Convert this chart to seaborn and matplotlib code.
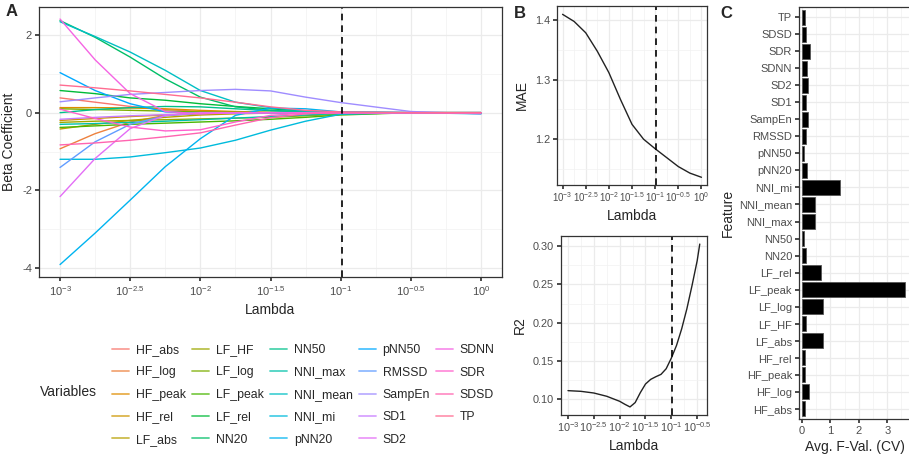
import numpy as np
import pandas as pd
import seaborn as sns
import matplotlib.pyplot as plt
from matplotlib.lines import Line2D

# ---- data ----
variables = ["HF_abs", "HF_log", "HF_peak", "HF_rel", "LF_abs", "LF_HF", "LF_log", "LF_peak",
             "LF_rel", "NN20", "NN50", "NNI_max", "NNI_mean", "NNI_mi", "pNN20", "pNN50",
             "RMSSD", "SampEn", "SD1", "SD2", "SDNN", "SDR", "SDSD", "TP"]

# panel A: log10(lambda) grid and coefficient paths
exp_a = [-3, -2.75, -2.5, -2.25, -2, -1.75, -1.5, -1.25, -1, -0.5, 0]
hf_abs = [0.38, 0.27, 0.16, 0.08, 0.03, 0.01, 0.0, 0.0, 0.0, 0.0, 0.0]
hf_log = [-0.93, -0.54, -0.24, -0.07, -0.01, 0.0, 0.0, 0.0, 0.0, 0.0, 0.0]
hf_peak = [0.13, 0.13, 0.12, 0.10, 0.06, 0.03, 0.01, 0.0, 0.0, 0.0, 0.0]
hf_rel = [-0.20, -0.15, -0.10, -0.06, -0.03, -0.01, 0.0, 0.0, 0.0, 0.0, 0.0]
lf_abs = [-0.42, -0.30, -0.20, -0.12, -0.06, -0.03, -0.01, 0.0, 0.0, 0.0, 0.0]
lf_hf = [-0.25, -0.22, -0.20, -0.18, -0.16, -0.14, -0.12, -0.08, -0.04, 0.0, 0.0]
lf_log = [0.10, 0.08, 0.06, 0.04, 0.02, 0.01, 0.0, 0.0, 0.0, 0.0, 0.0]
lf_peak = [-0.38, -0.34, -0.30, -0.27, -0.24, -0.21, -0.17, -0.12, -0.06, 0.0, -0.02]
lf_rel = [0.57, 0.49, 0.38, 0.32, 0.23, 0.16, 0.10, 0.04, 0.01, 0.0, 0.0]
nn20 = [2.37, 1.94, 1.43, 0.87, 0.40, 0.15, 0.06, 0.02, 0.0, 0.0, 0.0]
nn50 = [0.0, 0.08, 0.13, 0.16, 0.15, 0.10, 0.05, 0.02, 0.0, 0.0, 0.0]
nni_max = [-0.30, -0.28, -0.25, -0.22, -0.18, -0.14, -0.10, -0.06, -0.02, 0.0, 0.0]
nni_mean = [2.34, 1.96, 1.56, 1.09, 0.57, 0.27, 0.13, 0.04, 0.01, 0.0, 0.0]
nni_mi = [-1.20, -1.20, -1.14, -1.03, -0.91, -0.71, -0.45, -0.22, -0.04, 0.0, -0.03]
pnn20 = [-3.91, -3.10, -2.25, -1.39, -0.67, -0.07, 0.12, 0.10, 0.02, 0.0, 0.0]
pnn50 = [1.03, 0.57, 0.23, 0.02, -0.02, 0.0, 0.0, 0.0, 0.0, 0.0, 0.0]
rmssd = [-1.41, -0.75, -0.30, -0.08, -0.01, 0.0, 0.0, 0.0, 0.0, 0.0, 0.0]
sampen = [0.28, 0.38, 0.47, 0.52, 0.57, 0.60, 0.56, 0.40, 0.26, 0.03, -0.03]
sd1 = [-0.17, -0.12, -0.08, -0.05, -0.02, -0.01, 0.0, 0.0, 0.0, 0.0, 0.0]
sd2 = [-2.16, -1.18, -0.41, -0.07, 0.0, 0.0, 0.0, 0.0, 0.0, 0.0, 0.0]
sdnn = [2.41, 1.36, 0.49, 0.03, -0.03, 0.0, 0.0, 0.0, 0.0, 0.0, 0.0]
sdr = [0.09, -0.15, -0.37, -0.47, -0.44, -0.24, -0.07, -0.01, 0.0, 0.0, 0.0]
sdsd = [-0.83, -0.78, -0.71, -0.62, -0.52, -0.32, -0.13, -0.03, 0.0, 0.0, 0.0]
tp = [0.71, 0.64, 0.56, 0.47, 0.38, 0.27, 0.15, 0.06, 0.02, 0.0, 0.0]

lambda_opt = 10 ** -0.99

# panel B: MAE and R2 along lambda
exp_mae = [-3, -2.75, -2.5, -2.25, -2, -1.75, -1.5, -1.25, -1, -0.75, -0.5, -0.25, 0]
mae = [1.410, 1.398, 1.379, 1.348, 1.312, 1.267, 1.225, 1.200, 1.184, 1.169, 1.154, 1.143, 1.136]
exp_r2 = [-3, -2.75, -2.5, -2.25, -2, -1.9, -1.8, -1.7, -1.6, -1.5, -1.4, -1.3, -1.2, -1.1,
          -1, -0.9, -0.8, -0.7, -0.6, -0.5, -0.45]
r2 = [0.1105, 0.1096, 0.1074, 0.1031, 0.0965, 0.0926, 0.0891, 0.0948, 0.1079, 0.1192, 0.1253,
      0.1288, 0.1319, 0.1393, 0.1533, 0.1699, 0.1917, 0.2179, 0.2485, 0.2812, 0.3031]

# panel C: average F value per feature
fval = [0.11, 0.25, 0.12, 0.11, 0.73, 0.13, 0.75, 3.64, 0.68, 0.14, 0.09, 0.46, 0.47, 1.35,
        0.18, 0.08, 0.14, 0.22, 0.14, 0.21, 0.18, 0.27, 0.15, 0.12]

coefs = [hf_abs, hf_log, hf_peak, hf_rel, lf_abs, lf_hf, lf_log, lf_peak, lf_rel, nn20, nn50,
         nni_max, nni_mean, nni_mi, pnn20, pnn50, rmssd, sampen, sd1, sd2, sdnn, sdr, sdsd, tp]


def hue_pal(n, c=100, l=65):
    # ggplot2 default hue palette (polar CIE-LUV -> sRGB)
    h = np.deg2rad(np.linspace(15, 375, n + 1)[:n])
    u_, v_ = c * np.cos(h), c * np.sin(h)
    xn, yn, zn = 0.95047, 1.0, 1.08883
    d = xn + 15 * yn + 3 * zn
    un, vn = 4 * xn / d, 9 * yn / d
    Y = ((l + 16) / 116) ** 3
    u = u_ / (13 * l) + un
    v = v_ / (13 * l) + vn
    X = Y * 9 * u / (4 * v)
    Z = Y * (12 - 3 * u - 20 * v) / (4 * v)
    m = np.array([[3.2404542, -1.5371385, -0.4985314],
                  [-0.9692660, 1.8760108, 0.0415560],
                  [0.0556434, -0.2040259, 1.0572252]])
    rgb = m @ np.vstack([X, np.full_like(X, Y), Z])
    rgb = np.where(rgb <= 0.0031308, 12.92 * rgb, 1.055 * np.abs(rgb) ** (1 / 2.4) - 0.055)
    return [tuple(col) for col in np.clip(rgb, 0, 1).T]


colors = hue_pal(len(variables))

sns.set_theme(style="white")
plt.rcParams["font.family"] = ["Liberation Sans", "DejaVu Sans"]
plt.rcParams["axes.unicode_minus"] = False
plt.rcParams["mathtext.fontset"] = "custom"
plt.rcParams["mathtext.rm"] = "Liberation Sans"

fig = plt.figure(figsize=(9.09, 4.57), dpi=100)


def add_ax(l, t, w, h):
    return fig.add_axes([l / 909, 1 - (t + h) / 457, w / 909, h / 457])


def style_ax(ax, fs=8):
    ax.set_facecolor("white")
    for s in ax.spines.values():
        s.set_color("#333333")
        s.set_linewidth(0.9)
    ax.grid(True, which="major", color="#EBEBEB", lw=0.9)
    ax.grid(True, which="minor", color="#F2F2F2", lw=0.5)
    ax.set_axisbelow(True)
    ax.tick_params(which="major", length=3, color="#333333", labelcolor="#4D4D4D",
                   labelsize=fs, pad=2, bottom=True, left=True)
    ax.tick_params(which="minor", length=0)


def log_ticks(ax, exps, minor_exps):
    ax.set_xscale("log")
    ax.set_xticks([10.0 ** e for e in exps])
    ax.set_xticklabels([r"$\mathregular{10^{%g}}$" % e for e in exps])
    ax.set_xticks([10.0 ** e for e in minor_exps], minor=True)
    ax.xaxis.set_minor_formatter(plt.NullFormatter())


# ---- A: coefficient paths ----
axA = add_ax(39, 7, 463, 270)
dfA = pd.DataFrame({
    "Lambda": np.tile(10.0 ** np.array(exp_a), len(variables)),
    "Beta": np.concatenate(coefs),
    "Variables": np.repeat(variables, len(exp_a)),
})
sns.lineplot(data=dfA, x="Lambda", y="Beta", hue="Variables", hue_order=variables,
             palette=colors, estimator=None, lw=1.0, legend=False, ax=axA)
axA.axvline(lambda_opt, color="black", ls=(0, (4, 3)), lw=1.2)
style_ax(axA)
log_ticks(axA, [-3, -2.5, -2, -1.5, -1, -0.5, 0], [-2.75, -2.25, -1.75, -1.25, -0.75, -0.25])
axA.set_xlim(10 ** -3.15, 10 ** 0.15)
axA.set_ylim(-4.23, 2.72)
axA.set_yticks([-4, -2, 0, 2])
axA.set_yticks([-3, -1, 1], minor=True)
axA.set_xlabel("Lambda", fontsize=10, labelpad=4)
axA.set_ylabel("Beta Coefficient", fontsize=10, labelpad=4)

handles = [Line2D([], [], color=c, lw=1.3, alpha=0.7) for c in colors]
fig.legend(handles, variables, ncol=5, frameon=False, loc="upper left",
           bbox_to_anchor=(106 / 909, 1 - 338 / 457), fontsize=8.8, borderpad=0,
           handlelength=1.4, handletextpad=0.55, columnspacing=0.5, labelspacing=0.85)
fig.text(40 / 909, 1 - 392 / 457, "Variables", fontsize=10, va="center", ha="left")

# ---- B: MAE ----
axB1 = add_ax(557, 6, 150, 179)
sns.lineplot(x=10.0 ** np.array(exp_mae), y=mae, color="#222222", lw=1.0, ax=axB1)
axB1.axvline(lambda_opt, color="black", ls=(0, (4, 3)), lw=1.2)
style_ax(axB1, fs=7.8)
log_ticks(axB1, [-3, -2.5, -2, -1.5, -1, -0.5, 0], [-2.75, -2.25, -1.75, -1.25, -0.75, -0.25])
axB1.tick_params(axis="x", pad=1, labelsize=7.0)
axB1.set_xlim(10 ** -3.12, 10 ** 0.12)
axB1.set_ylim(1.123, 1.424)
axB1.set_yticks([1.2, 1.3, 1.4])
axB1.set_yticklabels(["1.2", "1.3", "1.4"])
axB1.set_yticks([1.15, 1.25, 1.35], minor=True)
axB1.set_xlabel("Lambda", fontsize=10, labelpad=3)
axB1.set_ylabel("MAE", fontsize=10, labelpad=4)

# ---- B: R2 ----
axB2 = add_ax(561, 236, 146, 179)
sns.lineplot(x=10.0 ** np.array(exp_r2), y=r2, color="#222222", lw=1.0, ax=axB2)
axB2.axvline(lambda_opt, color="black", ls=(0, (4, 3)), lw=1.2)
style_ax(axB2, fs=7.8)
log_ticks(axB2, [-3, -2.5, -2, -1.5, -1, -0.5], [-2.75, -2.25, -1.75, -1.25, -0.75])
axB2.tick_params(axis="x", pad=1)
axB2.set_xlim(10 ** -3.135, 10 ** -0.31)
axB2.set_ylim(0.0785, 0.3137)
axB2.set_yticks([0.10, 0.15, 0.20, 0.25, 0.30])
axB2.set_yticklabels(["0.10", "0.15", "0.20", "0.25", "0.30"])
axB2.set_yticks([0.125, 0.175, 0.225, 0.275], minor=True)
axB2.set_xlabel("Lambda", fontsize=10, labelpad=3)
axB2.set_ylabel("R2", fontsize=10, labelpad=4)

# ---- C: feature F values ----
axC = add_ax(799, 7, 111, 412)
dfC = pd.DataFrame({"Feature": variables, "F": fval})
sns.barplot(data=dfC, x="F", y="Feature", order=variables[::-1], color="black",
            edgecolor="#555555", linewidth=0.6, width=0.9, ax=axC)
style_ax(axC)
axC.set_xlim(-0.1, 3.8)
axC.set_ylim(23.6, -0.6)
axC.set_xticks([0, 1, 2, 3])
axC.set_xticks([0.5, 1.5, 2.5, 3.5], minor=True)
axC.grid(True, which="major", axis="y", color="#EBEBEB", lw=0.9)
axC.set_xlabel("Avg. F-Val. (CV)", fontsize=10, labelpad=3)
axC.set_ylabel("Feature", fontsize=10, labelpad=3)

# panel letters
for x, y, s in [(6, 12, "A"), (514, 13, "B"), (720, 14, "C")]:
    fig.text(x / 909, 1 - y / 457, s, fontsize=12, fontweight="bold", va="center", ha="left")

fig.savefig("out.png", dpi=100)
